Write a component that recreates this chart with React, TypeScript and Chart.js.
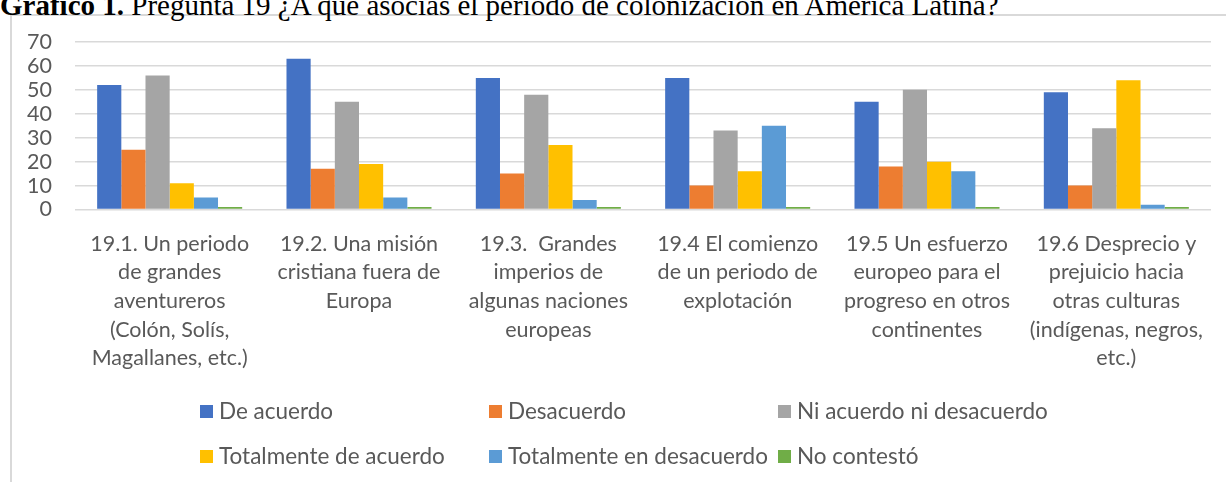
import React, { useEffect, useRef } from "react";
import { Chart, registerables } from "chart.js";

Chart.register(...registerables);

const categories: string[][] = [
  ["19.1. Un periodo", "de grandes", "aventureros", "(Colón, Solís,", "Magallanes, etc.)"],
  ["19.2. Una misión", "cristiana fuera de", "Europa"],
  ["19.3.  Grandes", "imperios de", "algunas naciones", "europeas"],
  ["19.4 El comienzo", "de un periodo de", "explotación"],
  ["19.5 Un esfuerzo", "europeo para el", "progreso en otros", "continentes"],
  ["19.6 Desprecio y", "prejuicio hacia", "otras culturas", "(indígenas, negros,", "etc.)"],
];

const seriesNames = [
  "De acuerdo",
  "Desacuerdo",
  "Ni acuerdo ni desacuerdo",
  "Totalmente de acuerdo",
  "Totalmente en desacuerdo",
  "No contestó",
];

const deAcuerdo = [52, 63, 55, 55, 45, 49];
const desacuerdo = [25, 17, 15, 10, 18, 10];
const niAcuerdoNiDesacuerdo = [56, 45, 48, 33, 50, 34];
const totalmenteDeAcuerdo = [11, 19, 27, 16, 20, 54];
const totalmenteEnDesacuerdo = [5, 5, 4, 35, 16, 2];
const noContesto = [1, 1, 1, 1, 1, 1];

const yMin = 0;
const yMax = 70;
const yStep = 10;

const seriesColors = ["#4472C4", "#ED7D31", "#A5A5A5", "#FFC000", "#5B9BD5", "#70AD47"];

const FONT = "Lato, 'Open Sans', sans-serif";
const TEXT = "#595959";

const legendPlugin = {
  id: "gridLegend",
  afterDraw(chart: any) {
    const ctx = chart.ctx as CanvasRenderingContext2D;
    const colX = [200, 489, 778];
    const rowBase = [419, 464];
    ctx.save();
    ctx.font = `22.5px ${FONT}`;
    ctx.textAlign = "left";
    ctx.textBaseline = "alphabetic";
    chart.data.datasets.forEach((ds: any, i: number) => {
      const c = i % 3;
      const r = Math.floor(i / 3);
      const x = colX[c];
      const base = rowBase[r];
      ctx.fillStyle = ds.backgroundColor;
      ctx.fillRect(x, base - 14, 13, 13);
      ctx.fillStyle = TEXT;
      ctx.fillText(ds.label, x + 19, base);
    });
    ctx.restore();
  },
};

export default function App() {
  const ref = useRef<HTMLCanvasElement | null>(null);

  useEffect(() => {
    document.body.style.margin = "0";
    const canvas = ref.current!;
    const allSeries = [
      deAcuerdo,
      desacuerdo,
      niAcuerdoNiDesacuerdo,
      totalmenteDeAcuerdo,
      totalmenteEnDesacuerdo,
      noContesto,
    ];
    const chart = new Chart(canvas, {
      type: "bar",
      data: {
        labels: categories,
        datasets: allSeries.map((d, i) => ({
          label: seriesNames[i],
          data: d,
          backgroundColor: seriesColors[i],
          borderWidth: 0,
          categoryPercentage: 0.766,
          barPercentage: 1,
        })),
      },
      options: {
        responsive: false,
        animation: false,
        devicePixelRatio: 1,
        layout: { padding: { top: 42, left: 20, right: 15, bottom: 0 } },
        plugins: {
          legend: { display: false },
          title: { display: false },
          tooltip: { enabled: false },
        },
        scales: {
          x: {
            grid: { display: false },
            border: { display: false },
            ticks: {
              color: TEXT,
              font: { family: FONT, size: 21.5, lineHeight: 1.33 },
              maxRotation: 0,
              minRotation: 0,
              autoSkip: false,
              padding: 12,
            },
            afterFit(scale: any) {
              scale.height = 272.5;
            },
          },
          y: {
            min: yMin,
            max: yMax,
            grid: { color: "#d9d9d9", lineWidth: 1.5, drawTicks: false },
            border: { display: false },
            ticks: {
              stepSize: yStep,
              autoSkip: false,
              color: TEXT,
              font: { family: FONT, size: 21.5 },
              padding: 23,
            },
            afterFit(scale: any) {
              scale.width = 55;
            },
          },
        },
      },
      plugins: [legendPlugin],
    });
    return () => chart.destroy();
  }, []);

  return (
    <div style={{ position: "fixed", left: 0, top: 0, width: 1226, height: 482, overflow: "hidden", background: "#fff" }}>
      <div
        style={{
          position: "absolute",
          left: 10,
          top: 14,
          width: 1300,
          height: 600,
          borderTop: "2px solid #d9d9d9",
          borderLeft: "2px solid #d9d9d9",
        }}
      />
      <div
        style={{
          position: "absolute",
          left: 0,
          top: -9,
          fontFamily: "'Liberation Serif', 'Times New Roman', serif",
          fontSize: 29,
          lineHeight: "29px",
          whiteSpace: "nowrap",
          color: "#000",
        }}
      >
        <b>Gráfico 1.</b> Pregunta 19 ¿A qué asocias el periodo de colonización en América Latina?
      </div>
      <canvas ref={ref} width={1226} height={482} style={{ position: "absolute", left: 0, top: 0 }} />
    </div>
  );
}
